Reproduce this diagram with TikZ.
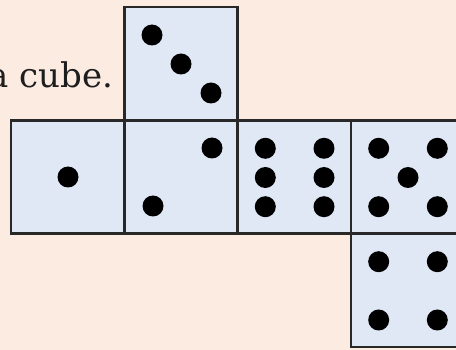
\documentclass[tikz,border=0pt]{standalone}
\usepackage{fontspec}
\setmainfont{DejaVu Serif}
\usetikzlibrary{positioning}
\definecolor{bgpeach}{RGB}{252,235,225}
\definecolor{facefill}{RGB}{224,232,246}
\definecolor{edgegray}{RGB}{40,40,40}
\definecolor{textgray}{RGB}{30,30,30}

\begin{document}
\begin{tikzpicture}[x=1pt,y=-1pt,
  face/.style={draw=edgegray,fill=facefill,line width=2.5pt},
  pip/.style={fill=black}]
  \fill[bgpeach] (0,0) rectangle (456,350); % 背景
  \useasboundingbox (0,0) rectangle (456,350); % 画像の大きさ
  \node[anchor=base east,text=textgray,inner sep=0pt,
    font=\fontsize{34}{40}\selectfont] (caption) at (113.5,87.5) {a cube.}; % 左に切れた文
  \draw[face] (124.3,7) rectangle (237.7,120.3); % 上の面（3）
  \draw[face] (11,120.3) rectangle (124.3,233.7); % 左の面（1）
  \draw[face] (124.3,120.3) rectangle (237.7,233.7); % 面（2）
  \draw[face] (237.7,120.3) rectangle (351,233.7); % 面（6）
  \draw[face] (351,120.3) rectangle (464.3,233.7); % 右端の面（5）。右側は画像の外
  \draw[face] (351,233.7) rectangle (464.3,347); % 下の面（4）
  \foreach \p in {(152,35),(181,64),(211,93)} \fill[pip] \p circle (10.5); % 3の目
  \fill[pip] (68,177) circle (10.5); % 1の目
  \foreach \p in {(212,148),(153,206)} \fill[pip] \p circle (10.5); % 2の目
  \foreach \x in {265.3,324} \foreach \y in {148.3,177.5,206.7}
    \fill[pip] (\x,\y) circle (10.5); % 6の目
  \foreach \p in {(378.7,148.3),(437.3,148.3),(408,177.5),(378.7,206.7),(437.3,206.7)}
    \fill[pip] \p circle (10.5); % 5の目
  \foreach \x in {378.7,437.3} \foreach \y in {261.7,320}
    \fill[pip] (\x,\y) circle (10.5); % 4の目
\end{tikzpicture}
\end{document}
